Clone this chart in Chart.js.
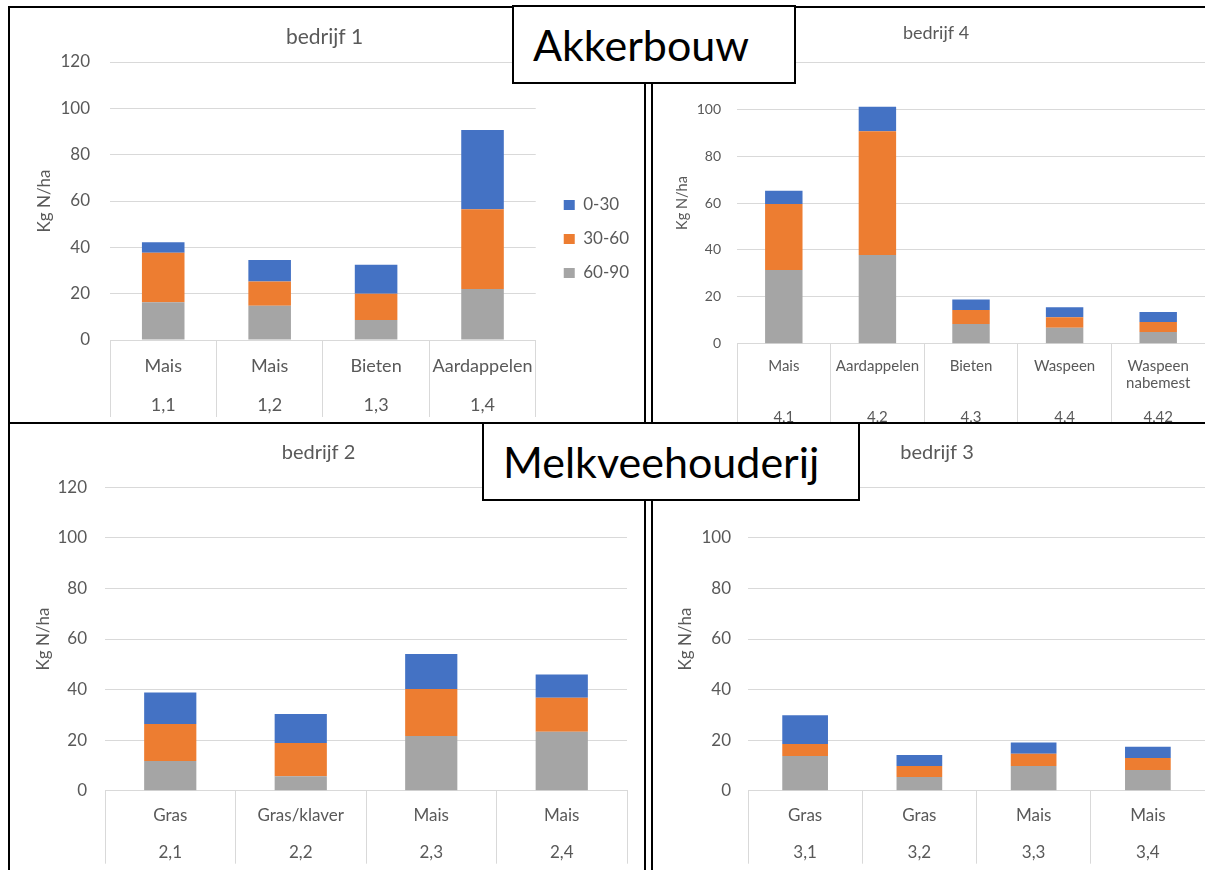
<!DOCTYPE html>
<html>
<head>
    <title>Minerale stikstof per laag - bedrijven</title>
    <script src="https://cdn.jsdelivr.net/npm/chart.js"></script>
    <style>
        body {
            margin: 0;
            width: 1205px;
            height: 870px;
            overflow: hidden;
            background: #fff;
            position: relative;
            font-family: Lato, "Open Sans", sans-serif;
        }
        canvas, .line, .group-box {
            position: absolute;
        }
        .line {
            background: #000;
        }
        .group-box {
            box-sizing: border-box;
            border: 2px solid #000;
            background: #fff;
            color: #000;
            font-size: 43px;
            display: flex;
            align-items: center;
            padding-left: 19px;
        }
    </style>
</head>
<body>
    <canvas id="chart1" width="633" height="460" style="left:10px;top:9px"></canvas>
    <canvas id="chart4" width="538" height="414" style="left:667px;top:9px"></canvas>
    <canvas id="chart2" width="633" height="445" style="left:10px;top:425px"></canvas>
    <canvas id="chart3" width="536" height="445" style="left:669px;top:425px"></canvas>

    <div class="line" style="left:8px;top:6px;width:1197px;height:2px"></div>
    <div class="line" style="left:8px;top:6px;width:2px;height:864px"></div>
    <div class="line" style="left:8px;top:422px;width:1197px;height:2px"></div>
    <div class="line" style="left:644px;top:6px;width:2px;height:864px"></div>
    <div class="line" style="left:651px;top:6px;width:2px;height:864px"></div>

    <div class="group-box" style="left:512px;top:5px;width:284px;height:79px">Akkerbouw</div>
    <div class="group-box" style="left:482px;top:422px;width:378px;height:79px">Melkveehouderij</div>

    <script>
        // layer names (legend) and colours, bottom of the stack first
        const layers = ['60-90', '30-60', '0-30'];
        const layerColors = ['#A5A5A5', '#ED7D31', '#4472C4'];

        // bedrijf 1
        const crops1 = ['Mais', 'Mais', 'Bieten', 'Aardappelen'];
        const codes1 = ['1,1', '1,2', '1,3', '1,4'];
        const deep1 = [16.3, 14.8, 8.6, 22.0];
        const mid1 = [21.4, 10.4, 11.4, 34.4];
        const top1 = [4.5, 9.3, 12.5, 34.2];

        // bedrijf 4
        const crops4 = ['Mais', 'Aardappelen', 'Bieten', 'Waspeen', ['Waspeen', 'nabemest']];
        const codes4 = ['4,1', '4,2', '4,3', '4,4', '4,42'];
        const deep4 = [31.4, 37.8, 8.4, 6.8, 5.0];
        const mid4 = [28.2, 52.8, 6.0, 4.5, 4.3];
        const top4 = [5.6, 10.4, 4.5, 4.2, 4.2];

        // bedrijf 2
        const crops2 = ['Gras', 'Gras/klaver', 'Mais', 'Mais'];
        const codes2 = ['2,1', '2,2', '2,3', '2,4'];
        const deep2 = [11.7, 5.7, 21.6, 23.3];
        const mid2 = [14.7, 13.2, 18.6, 13.5];
        const top2 = [12.4, 11.4, 13.9, 9.2];

        // bedrijf 3
        const crops3 = ['Gras', 'Gras', 'Mais', 'Mais'];
        const codes3 = ['3,1', '3,2', '3,3', '3,4'];
        const deep3 = [13.7, 5.4, 9.8, 8.2];
        const mid3 = [4.8, 4.4, 4.8, 4.7];
        const top3 = [11.3, 4.3, 4.5, 4.5];

        const yTicks = { min: 0, max: 120, step: 20 };

        Chart.defaults.font.family = 'Lato, "Open Sans", sans-serif';
        Chart.defaults.color = '#595959';

        function buildChart(p) {
            const labels = p.crops.map((crop, i) => {
                const lines = [].concat(crop);
                while (lines.length < p.codeRow) lines.push('');
                lines.push(p.codes[i]);
                return lines;
            });
            const values = [p.deep, p.mid, p.top];

            const scales = {
                x: {
                    stacked: true,
                    offset: true,
                    grid: {
                        offset: true,
                        drawOnChartArea: false,
                        color: '#d9d9d9',
                        tickLength: p.sepLength
                    },
                    border: { color: '#d9d9d9' },
                    ticks: {
                        autoSkip: false,
                        maxRotation: 0,
                        padding: p.labelPad,
                        font: { size: p.labelSize, lineHeight: p.rowHeight }
                    },
                    afterFit: s => { s.height = p.xHeight; }
                },
                y: {
                    stacked: true,
                    min: yTicks.min,
                    max: yTicks.max,
                    ticks: {
                        stepSize: yTicks.step,
                        padding: p.yPad,
                        font: { size: p.tickSize }
                    },
                    grid: { color: '#d9d9d9', drawTicks: false },
                    border: { display: false },
                    title: {
                        display: true,
                        text: 'Kg N/ha',
                        font: { size: p.yTitleSize },
                        padding: { top: p.yTitlePad, bottom: 0 }
                    },
                    afterFit: s => { s.width = p.yWidth; }
                }
            };
            if (p.legend) {
                // empty spacer between the plot and the legend
                scales.gap = {
                    type: 'linear',
                    position: 'right',
                    grid: { display: false },
                    border: { display: false },
                    ticks: { display: false },
                    afterFit: s => { s.width = p.legendGap; }
                };
            }

            new Chart(document.getElementById(p.id), {
                type: 'bar',
                data: {
                    labels: labels,
                    datasets: layers.map((name, i) => ({
                        label: name,
                        data: values[i],
                        backgroundColor: layerColors[i],
                        borderWidth: 0,
                        barPercentage: 0.4,
                        categoryPercentage: 1
                    }))
                },
                options: {
                    responsive: false,
                    animation: false,
                    layout: { padding: { left: 0, right: p.padRight, top: 0, bottom: 0 } },
                    plugins: {
                        title: {
                            display: true,
                            text: p.title,
                            font: { size: p.titleSize, weight: 'normal' },
                            padding: { top: p.titleTop, bottom: p.titleBottom }
                        },
                        legend: {
                            display: p.legend,
                            position: 'right',
                            reverse: true,
                            labels: {
                                boxWidth: 11,
                                boxHeight: 10,
                                padding: 17,
                                font: { size: 17 }
                            }
                        },
                        tooltip: { enabled: false }
                    },
                    scales: scales
                }
            });
        }

        buildChart({
            id: 'chart1', title: 'bedrijf 1', crops: crops1, codes: codes1,
            deep: deep1, mid: mid1, top: top1, codeRow: 2,
            titleSize: 21, titleTop: 15.4, titleBottom: 12.4,
            yWidth: 100, yPad: 20, yTitleSize: 17, yTitlePad: 24.8,
            tickSize: 17, labelSize: 18, rowHeight: 1.083,
            xHeight: 129, sepLength: 77, labelPad: -60.75,
            legend: true, legendGap: 11, padRight: 4
        });

        buildChart({
            id: 'chart4', title: 'bedrijf 4', crops: crops4, codes: codes4,
            deep: deep4, mid: mid4, top: top4, codeRow: 3,
            titleSize: 18, titleTop: 13.2, titleBottom: 18.5,
            yWidth: 70, yPad: 16, yTitleSize: 14.5, yTitlePad: 6.3,
            tickSize: 14, labelSize: 15, rowHeight: 1.133,
            xHeight: 79.3, sepLength: 90, labelPad: -76.2,
            legend: false, padRight: 0
        });

        buildChart({
            id: 'chart2', title: 'bedrijf 2', crops: crops2, codes: codes2,
            deep: deep2, mid: mid2, top: top2, codeRow: 2,
            titleSize: 20, titleTop: 16, titleBottom: 22.3,
            yWidth: 95, yPad: 18, yTitleSize: 17, yTitlePad: 23.3,
            tickSize: 17, labelSize: 17, rowHeight: 1.07,
            xHeight: 79.3, sepLength: 73, labelPad: -57.1,
            legend: false, padRight: 16
        });

        buildChart({
            id: 'chart3', title: 'bedrijf 3', crops: crops3, codes: codes3,
            deep: deep3, mid: mid3, top: top3, codeRow: 2,
            titleSize: 20, titleTop: 16, titleBottom: 22.3,
            yWidth: 79, yPad: 17, yTitleSize: 17, yTitlePad: 6.3,
            tickSize: 17, labelSize: 17, rowHeight: 1.07,
            xHeight: 79.3, sepLength: 73, labelPad: -57.1,
            legend: false, padRight: 0
        });
    </script>
</body>
</html>
